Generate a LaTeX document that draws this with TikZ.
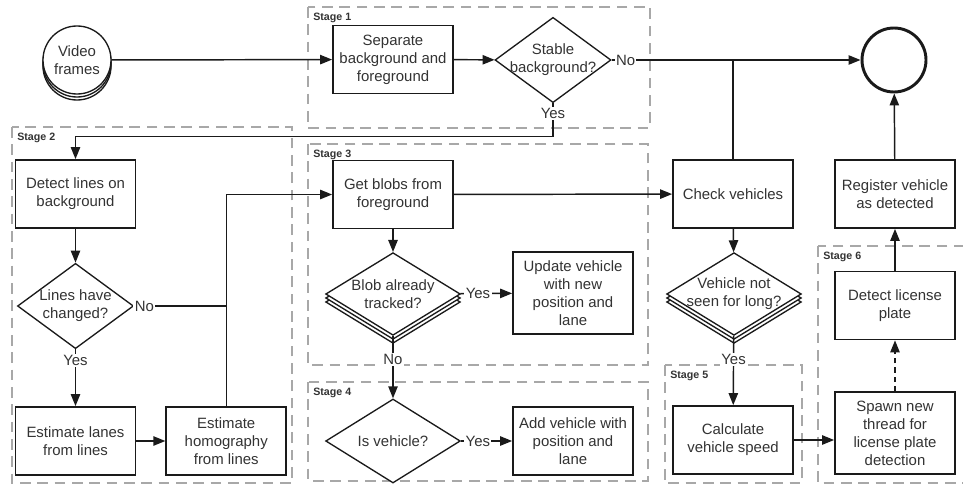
\documentclass[tikz,border=0pt]{standalone}
\usepackage{fontspec}
\setmainfont{Liberation Sans}
\usepackage{xcolor}
\definecolor{cLine}{HTML}{1A1A1A}
\definecolor{cText}{HTML}{333333}
\definecolor{cFrame}{HTML}{A8A8A8}
\usetikzlibrary{positioning,arrows.meta,shapes.geometric,shadows}
\newcommand{\flowfont}{\fontsize{11.2}{13.5}\selectfont}
\tikzset{
  node-box/.style={draw=cLine,line width=1.3pt,fill=white,text=cText,
    minimum width=90pt,minimum height=51pt,inner sep=2pt,align=center,
    font=\flowfont},
  node-box-tall/.style={node-box,minimum height=61pt},
  node-choice/.style={draw=cLine,line width=1pt,fill=white,diamond,
    inner sep=0pt,minimum width=87pt,minimum height=64pt},
  node-choice-wide/.style={node-choice,minimum width=101pt,minimum height=62pt},
  % stacked look: two copies of the outline pushed downwards
  node-stack/.style={
    copy shadow={shadow xshift=0pt,shadow yshift=-6pt,draw=cLine,fill=white},
    copy shadow={shadow xshift=0pt,shadow yshift=-3pt,draw=cLine,fill=white}},
  choice-text/.style={text=cText,align=center,font=\flowfont,inner sep=0pt},
  node-source/.style={draw=cLine,circle,line width=1pt,fill=white,text=cText,
    minimum size=51pt,inner sep=0pt,align=center,font=\flowfont,
    copy shadow={shadow xshift=0pt,shadow yshift=-4.5pt,draw=cLine,fill=white},
    copy shadow={shadow xshift=0pt,shadow yshift=-2.25pt,draw=cLine,fill=white}},
  node-terminal/.style={draw=cLine,circle,line width=2.2pt,minimum size=48pt},
  branch/.style={text=cText,font=\flowfont,fill=white,inner sep=1pt},
  arrow/.style={-{Triangle[length=9pt,width=7pt]},line width=1.1pt,draw=cLine},
  arrow-async/.style={arrow,dash pattern=on 4pt off 3pt},
  joint/.style={line width=1.1pt,draw=cLine},
  stage-frame/.style={draw=cFrame,line width=1pt,dash pattern=on 8pt off 5pt},
  stage-label/.style={anchor=base west,inner sep=0pt,
    font=\fontsize{8}{9}\selectfont\bfseries,text=cText,
    xshift=3.75pt,yshift=-10pt},
}

\begin{document}
\begin{tikzpicture}[x=0.75pt,y=-0.75pt]
  \useasboundingbox (0,0) rectangle (963,485);

  % stages
  \draw[stage-frame] (308,7) rectangle (650,128);
  \node[stage-label] (stage1) at (308,7) {Stage 1};
  \draw[stage-frame] (12,127) rectangle (292,483);
  \node[stage-label] (stage2) at (12,127) {Stage 2};
  \draw[stage-frame] (308,144) rectangle (648,365);
  \node[stage-label] (stage3) at (308,144) {Stage 3};
  \draw[stage-frame] (308,382) rectangle (648,481);
  \node[stage-label] (stage4) at (308,382) {Stage 4};
  \draw[stage-frame] (665,365) rectangle (802,483);
  \node[stage-label] (stage5) at (665,365) {Stage 5};
  \draw[stage-frame] (818,246) rectangle (975,483);
  \node[stage-label] (stage6) at (818,246) {Stage 6};

  % top row
  \node[node-source] (video) at (77,60) {Video\\frames};
  \node[node-box] (separate) at (393,59.5) {Separate\\background and\\foreground};
  \node[node-choice,label={[choice-text]center:{Stable\\background?}}] (stable) at (553,60) {};
  \node[node-terminal] (finish) at (894,60) {};

  % stage 2
  \node[node-box] (detect-lines) at (75.5,194) {Detect lines on\\background};
  \node[node-choice,label={[choice-text]center:{Lines have\\changed?}}] (lines-changed) at (75.5,306) {};
  \node[node-box] (est-lanes) at (75.5,441) {Estimate lanes\\from lines};
  \node[node-box,right=21.75pt of est-lanes] (est-homog) {Estimate\\homography\\from lines};

  % stage 3 / 4
  \node[node-box] (get-blobs) at (393,194.5) {Get blobs from\\foreground};
  \node[node-choice-wide,node-stack,label={[choice-text]center:{Blob already\\tracked?}}] (blob-tracked) at (393,294) {};
  \node[node-box-tall] (update-veh) at (573,293) {Update vehicle\\with new\\position and\\lane};
  \node[node-choice-wide,minimum height=63pt,label={[choice-text]center:{Is vehicle?}}] (is-vehicle) at (393,441) {};
  \node[node-box] (add-veh) at (573,441) {Add vehicle with\\position and\\lane};

  % vehicles, stage 5 / 6
  \node[node-box] (check-veh) at (733,194) {Check vehicles};
  \node[node-choice-wide,node-stack,label={[choice-text]center:{Vehicle not\\seen for long?}}] (not-seen) at (734,294) {};
  \node[node-box] (calc-speed) at (733,440) {Calculate\\vehicle speed};
  \node[node-box-tall] (spawn-thread) at (895,433) {Spawn new\\thread for\\license plate\\detection};
  \node[node-box] (detect-plate) at (895,305.5) {Detect license\\plate};
  \node[node-box] (register-veh) at (895,194) {Register vehicle\\as detected};

  \draw[arrow] (video) -- (separate);
  \draw[arrow] (separate) -- (stable);
  \draw[arrow] (stable) -- node[branch,pos=0.056]{No} (finish);
  \draw[joint] (check-veh) -- (check-veh |- finish);
  \draw[arrow] (stable.south) -- node[branch,pos=0.3]{Yes} ++(0,33) -| (detect-lines);

  \draw[arrow] (detect-lines) -- (lines-changed);
  \draw[arrow] (lines-changed) -- node[branch,pos=0.2]{Yes} (est-lanes);
  \draw[joint] (lines-changed) -- node[branch,pos=0.11]{No} (lines-changed -| est-homog);
  \draw[arrow] (est-lanes) -- (est-homog);
  \draw[arrow] (est-homog) |- (get-blobs);

  \draw[arrow] (get-blobs) -- (check-veh);
  \draw[arrow] (get-blobs) -- (blob-tracked);
  \draw[arrow] (blob-tracked) -- node[branch,pos=0.34]{Yes} (update-veh);
  \draw[arrow] (blob-tracked) -- node[branch,pos=0.375]{No} (is-vehicle);
  \draw[arrow] (is-vehicle) -- node[branch,pos=0.33]{Yes} (add-veh);

  \draw[arrow] (check-veh) -- (not-seen);
  \draw[arrow] (not-seen) -- node[branch,pos=0.34]{Yes} (calc-speed);
  \draw[arrow] (calc-speed) -- (calc-speed -| spawn-thread.west);
  \draw[arrow-async] (spawn-thread) -- (detect-plate);
  \draw[arrow] (detect-plate) -- (register-veh);
  \draw[arrow] (register-veh) -- (finish);
\end{tikzpicture}
\end{document}
